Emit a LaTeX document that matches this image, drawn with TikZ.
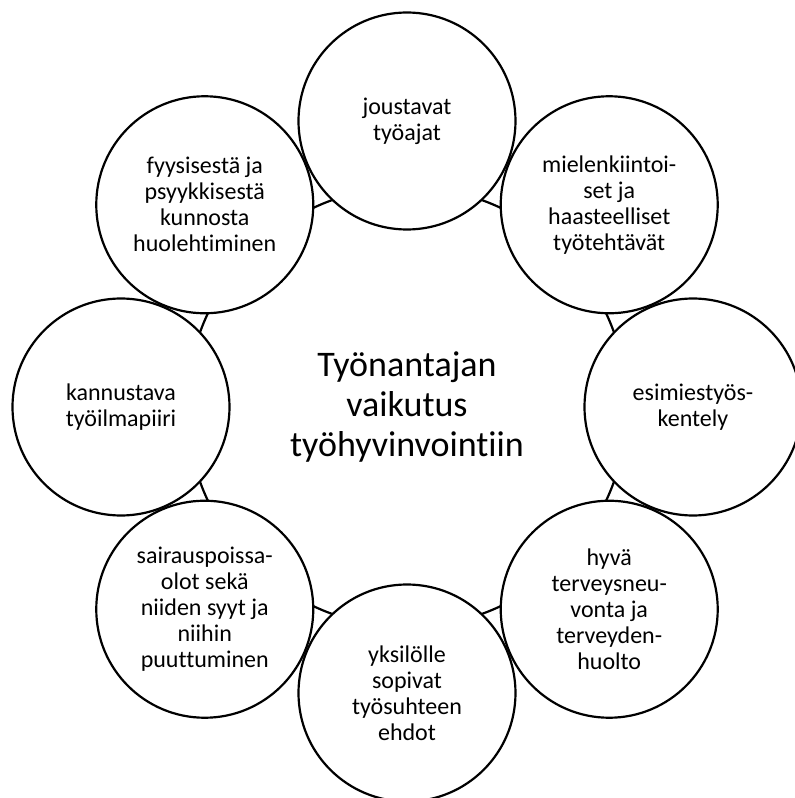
\documentclass[tikz,border=0pt]{standalone}
\usepackage{fontspec}
\setmainfont{Carlito}[Ligatures=NoCommon]
\begin{document}
\begin{tikzpicture}[x=1pt,y=1pt,
  bubble/.style={circle,draw=black,fill=white,line width=2.2pt,minimum size=217pt,inner sep=0pt,
    align=center,font=\fontsize{24}{26}\selectfont},
  ring/.style={draw=black,line width=2.2pt}]
\useasboundingbox (-407,-391) rectangle (388,407);
\clip (-407,-391) rectangle (388,407);
\coordinate (c) at (0,0);
\draw[ring] (c) circle (220);
\node[bubble] (n1) at (90:286) {joustavat\\työajat};
\node[bubble] (n2) at (45:286) {mielenkiintoi-\\set ja\\haasteelliset\\työtehtävät};
\node[bubble] (n3) at (0:286) {esimiestyös-\\kentely};
\node[bubble] (n4) at (-45:286) {hyvä\\terveysneu-\\vonta ja\\terveyden-\\huolto};
\node[bubble] (n5) at (-90:286) {yksilölle\\sopivat\\työsuhteen\\ehdot};
\node[bubble] (n6) at (-135:286) {sairauspoissa-\\olot sekä\\niiden syyt ja\\niihin\\puuttuminen};
\node[bubble] (n7) at (180:286) {kannustava\\työilmapiiri};
\node[bubble] (n8) at (135:286) {fyysisestä ja\\psyykkisestä\\kunnosta\\huolehtiminen};
\node[align=center,font=\fontsize{36}{40}\selectfont] (ct) at (c) {Työnantajan\\vaikutus\\työhyvinvointiin};
\end{tikzpicture}
\end{document}
